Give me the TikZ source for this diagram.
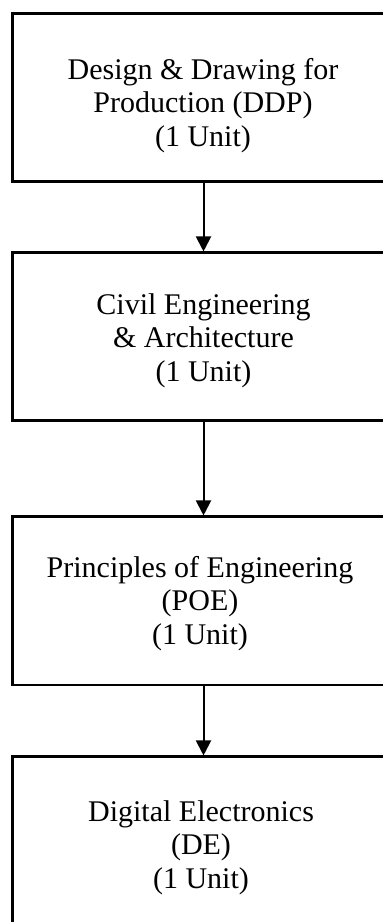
\documentclass[tikz,border=0pt]{standalone}
\usepackage{fontspec}
\setmainfont{Liberation Serif}
\usetikzlibrary{arrows.meta}

\tikzset{
  x=1pt, y=1pt,
  course/.style={draw, line width=2.7pt, rectangle, minimum width=382pt, inner sep=0pt},
  label text/.style={anchor=north, inner sep=0pt, align=center,
    font=\fontsize{30}{33.5}\selectfont},
  flow/.style={line width=2pt, -{Triangle[width=15pt,length=15pt]}},
}
\newcommand{\firstline}{\rule{0pt}{25pt}}

\begin{document}
\begin{tikzpicture}
  \useasboundingbox (0,0) rectangle (383,-922);
  \clip (0,0) rectangle (383,-922);

  % course boxes (right edges run past the frame)
  \node[course, minimum height=167.9pt] (b1) at (203.5,-97.25) {};
  \node[course, minimum height=167.5pt] (b2) at (203.5,-336.55) {};
  \node[course, minimum height=168.2pt] (b3) at (203.5,-600.9) {};
  \node[course, minimum height=168.2pt] (b4) at (203.5,-840.9) {};

  % course titles
  \node[label text] (t1) at (203,-54) {\firstline Design \& Drawing for\\Production (DDP)\\(1 Unit)};
  \node[label text] (t2) at (203.5,-289) {\firstline Civil Engineering\\\& Architecture\\(1 Unit)};
  \node[label text] (t3) at (200,-552) {\firstline Principles of Engineering\\(POE)\\(1 Unit)};
  \node[label text] (t4) at (201,-796) {\firstline Digital Electronics\\(DE)\\(1 Unit)};

  % sequence arrows
  \draw[flow] (b1.south) -- (b2.north);
  \draw[flow] (b2.south) -- (b3.north);
  \draw[flow] (b3.south) -- (b4.north);
\end{tikzpicture}
\end{document}
